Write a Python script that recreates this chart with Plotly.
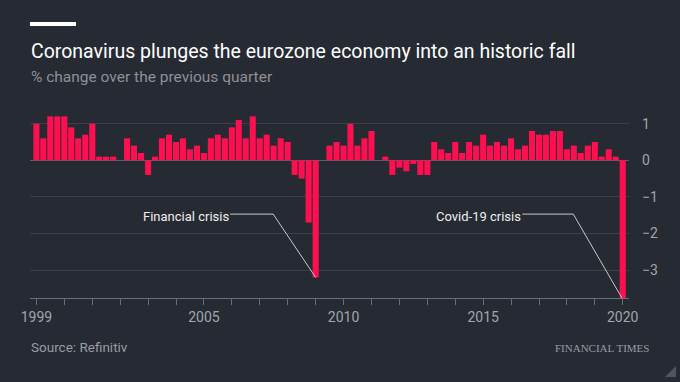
import pandas as pd
import plotly.graph_objects as go

# ---------------- data ----------------
quarters = pd.date_range("1999-01-01", "2020-01-01", freq="QS")  # 1999 Q1 .. 2020 Q1
gdp_change = [
    1.0, 0.6, 1.2, 1.2,   # 1999
    1.2, 0.9, 0.6, 0.7,   # 2000
    1.0, 0.1, 0.1, 0.1,   # 2001
    0.0, 0.6, 0.4, 0.2,   # 2002
    -0.4, 0.1, 0.6, 0.7,  # 2003
    0.5, 0.6, 0.3, 0.4,   # 2004
    0.2, 0.6, 0.7, 0.6,   # 2005
    0.9, 1.1, 0.6, 1.2,   # 2006
    0.6, 0.7, 0.4, 0.6,   # 2007
    0.5, -0.4, -0.5, -1.7,  # 2008
    -3.2, 0.0, 0.4, 0.5,  # 2009
    0.4, 1.0, 0.4, 0.6,   # 2010
    0.8, 0.0, 0.1, -0.4,  # 2011
    -0.2, -0.3, -0.1, -0.4,  # 2012
    -0.4, 0.5, 0.3, 0.2,  # 2013
    0.5, 0.2, 0.5, 0.4,   # 2014
    0.7, 0.4, 0.5, 0.4,   # 2015
    0.6, 0.3, 0.4, 0.8,   # 2016
    0.7, 0.7, 0.8, 0.8,   # 2017
    0.3, 0.4, 0.2, 0.4,   # 2018
    0.5, 0.1, 0.3, 0.1,   # 2019
    -3.8,                 # 2020 Q1
]
year_ticks = [f"{y}-01-01" for y in range(1999, 2021)]
year_labels = [str(y) if y in (1999, 2005, 2010, 2015, 2020) else "" for y in range(1999, 2021)]
y_ticks = [1, 0, -1, -2, -3]

# annotation anchors: (label text, label end date, elbow date, crisis quarter)
callouts = [
    ("Financial crisis", "2005-12-08", "2007-06-25", "2009-01-01"),
    ("Covid-19 crisis", "2016-05-27", "2018-03-25", "2020-01-01"),
]
callout_y = -1.47

# ---------------- style ----------------
BG = "#262a33"
BAR = "#ff0f50"
GRID = "#3b3f48"
AXIS = "#6a6d74"
TICKTXT = "#a3a5aa"
FONT = "Roboto"

W, H = 680, 382
L, R, T, B = 30, 51, 110, 84
PH = H - T - B
PW = W - L - R


def px_x(x):
    return (x - L) / PW


def px_y(y):
    return (H - B - y) / PH


fig = go.Figure()
fig.add_trace(go.Bar(x=quarters, y=gdp_change, marker=dict(color=BAR, line=dict(width=0)),
                     hoverinfo="x+y"))

vals = dict(zip([d.strftime("%Y-%m-%d") for d in quarters], gdp_change))
shapes = []
annotations = []
for text, end_d, elbow_d, crisis_d in callouts:
    shapes.append(dict(type="path", xref="x", yref="y",
                       path=f"M {end_d} {callout_y} L {elbow_d} {callout_y} L {crisis_d} {vals[crisis_d]}",
                       line=dict(color="#c8c9cc", width=1)))
    annotations.append(dict(x=end_d, y=callout_y, xref="x", yref="y", text=text, showarrow=False,
                            xanchor="right", yanchor="middle", yshift=-2, xshift=1,
                            font=dict(family=FONT, size=13, color="#eeeeee")))

# title block
shapes.append(dict(type="rect", xref="paper", yref="paper", x0=px_x(30), x1=px_x(76),
                   y0=px_y(26), y1=px_y(22), fillcolor="#ffffff", line=dict(width=0)))
annotations += [
    dict(x=px_x(29), y=px_y(51), xref="paper", yref="paper", xanchor="left", yanchor="middle",
         text="Coronavirus plunges the eurozone economy into an historic fall", showarrow=False,
         font=dict(family=FONT, size=19.5, color="#ffffff")),
    dict(x=px_x(29), y=px_y(77), xref="paper", yref="paper", xanchor="left", yanchor="middle",
         text="% change over the previous quarter", showarrow=False,
         font=dict(family=FONT, size=15.5, color="#8e9096")),
    dict(x=px_x(29), y=px_y(347), xref="paper", yref="paper", xanchor="left", yanchor="middle",
         text="Source: Refinitiv", showarrow=False,
         font=dict(family=FONT, size=13.5, color="#9a9ca1")),
    dict(x=px_x(651), y=px_y(348), xref="paper", yref="paper", xanchor="right", yanchor="middle",
         text="FINANCIAL TIMES", showarrow=False,
         font=dict(family="Liberation Serif", size=11, color="#9a9ca1")),
]
# corner triangle
shapes.append(dict(type="path", xref="paper", yref="paper",
                   path=f"M {px_x(676)} {px_y(366)} L {px_x(676)} {px_y(377)} L {px_x(665)} {px_y(377)} Z",
                   fillcolor="#50545c", line=dict(width=0)))

fig.update_layout(
    width=W, height=H,
    margin=dict(l=L, r=R, t=T, b=B, pad=0),
    paper_bgcolor=BG, plot_bgcolor=BG,
    showlegend=False, bargap=0.12,
    shapes=shapes, annotations=annotations,
    font=dict(family=FONT, color=TICKTXT),
)
fig.update_xaxes(type="date", range=["1998-10-09", "2020-03-23"],
                 tickvals=year_ticks, ticktext=year_labels,
                 showgrid=False, zeroline=False,
                 showline=True, linecolor=AXIS, linewidth=1,
                 ticks="outside", ticklen=6, tickcolor=AXIS, tickwidth=1,
                 tickfont=dict(family=FONT, size=14, color=TICKTXT))
fig.update_yaxes(range=[-3.762, 1.374], side="right", tickvals=y_ticks,
                 showgrid=True, gridcolor=GRID, gridwidth=1,
                 zeroline=True, zerolinecolor="#5c5f66", zerolinewidth=1,
                 showline=False, ticks="", ticklabelstandoff=12,
                 tickfont=dict(family=FONT, size=14, color=TICKTXT))

fig.write_html(
    "out.html",
    config={"displayModeBar": False},
    post_script="document.body.style.margin='0';document.body.style.background='#262a33';"
                "document.documentElement.style.overflow='hidden';",
)
